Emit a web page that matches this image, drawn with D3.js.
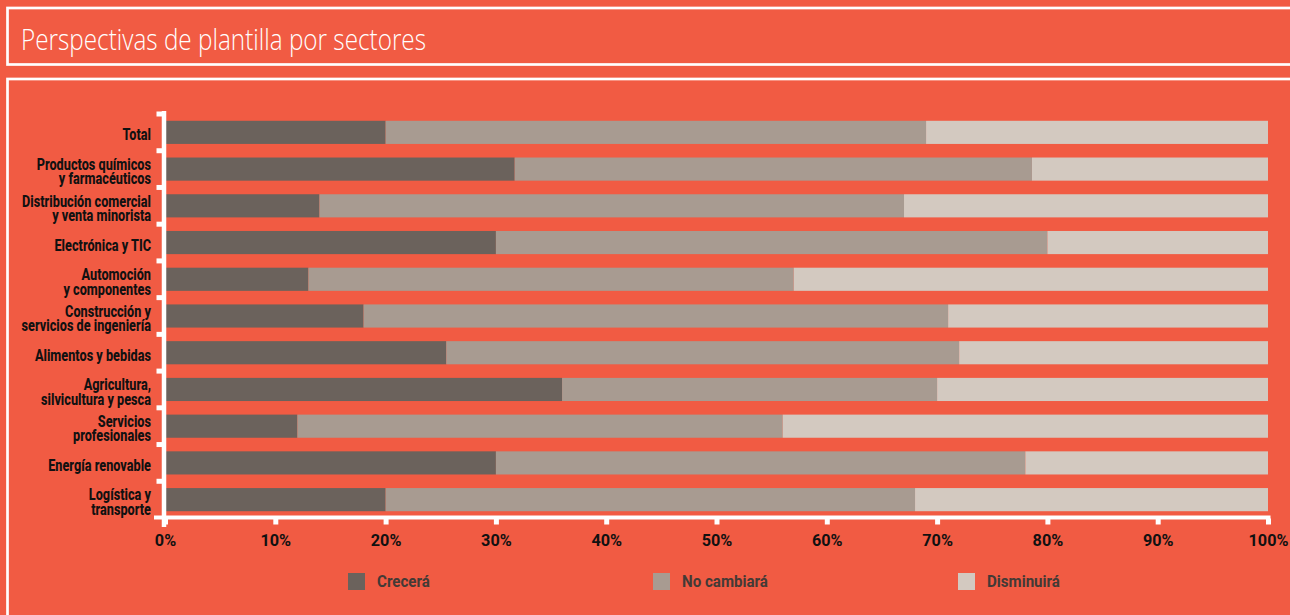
<!DOCTYPE html>
<html><head><meta charset="utf-8">
<script src="https://cdn.jsdelivr.net/npm/d3@7"></script>
<style>html,body{margin:0;padding:0;background:#F15B43;overflow:hidden}</style>
</head><body><svg id="c" width="1290" height="615"></svg>
<script>
const title = "Perspectivas de plantilla por sectores";
const categories = [
  "Total",
  "Productos químicos\ny farmacéuticos",
  "Distribución comercial\ny venta minorista",
  "Electrónica y TIC",
  "Automoción\ny componentes",
  "Construcción y\nservicios de ingeniería",
  "Alimentos y bebidas",
  "Agricultura,\nsilvicultura y pesca",
  "Servicios\nprofesionales",
  "Energía renovable",
  "Logística y\ntransporte"
];
const seriesNames = ["Crecerá", "No cambiará", "Disminuirá"];
const crecera    = [20, 31.7, 14, 30, 13, 18, 25.5, 36, 12, 30, 20];
const noCambiara = [49, 46.9, 53, 50, 44, 53, 46.5, 34, 44, 48, 48];
const disminuira = [31, 21.4, 33, 20, 43, 29, 28,   30, 44, 22, 32];
const xTicks = [0, 10, 20, 30, 40, 50, 60, 70, 80, 90, 100];
const colors = ["#6B625C", "#A89B91", "#D3C9C0"];

const svg = d3.select("#c");
const BG = "#F15B43";
svg.append("rect").attr("width", 1290).attr("height", 615).attr("fill", BG);

// frames
svg.append("rect").attr("x", 7.5).attr("y", 8).attr("width", 1300).attr("height", 56.5)
  .attr("fill", "none").attr("stroke", "#fff").attr("stroke-width", 2.7);
svg.append("rect").attr("x", 7.5).attr("y", 79).attr("width", 1300).attr("height", 600)
  .attr("fill", "none").attr("stroke", "#fff").attr("stroke-width", 2.7);

svg.append("text").attr("x", 21).attr("y", 50)
  .attr("font-family", "'Open Sans', sans-serif").attr("font-weight", 300)
  .attr("font-size", 29).attr("fill", "#fff")
  .attr("textLength", 405).attr("lengthAdjust", "spacingAndGlyphs")
  .text(title);

const rows = categories.map((c, i) => ({cat: c, "Crecerá": crecera[i], "No cambiará": noCambiara[i], "Disminuirá": disminuira[i]}));
const stack = d3.stack().keys(seriesNames)(rows);

const x = d3.scaleLinear().domain([0, 100]).range([165, 1268]);
const y = d3.scaleBand().domain(categories).range([114, 518]).paddingInner(0.37).paddingOuter(0.185);
const color = d3.scaleOrdinal().domain(seriesNames).range(colors);

svg.append("g").selectAll("g").data(stack).join("g")
  .attr("fill", d => color(d.key))
  .selectAll("rect").data(d => d).join("rect")
  .attr("x", d => x(d[0]))
  .attr("width", d => x(d[1]) - x(d[0]))
  .attr("y", d => y(d.data.cat))
  .attr("height", y.bandwidth());

const FONT = "Roboto, 'Noto Sans', sans-serif";
function measure(txt, size, wt) {
  const t = svg.append("text").attr("font-family", FONT).attr("font-weight", wt)
    .attr("font-size", size).text(txt);
  const w = t.node().getComputedTextLength();
  t.remove();
  return w;
}
const LW = 800;
const sLab = 129 / measure("Distribución comercial", 16, LW);
const sTick = 40 / measure("100%", 16, 700);
const sLeg = 86 / measure("No cambiará", 16, 700);

// category labels (one text per category, lines as tspans)
const labG = svg.append("g");
categories.forEach(c => {
  const lines = c.split("\n");
  const cy = y(c) + y.bandwidth() / 2;
  const by = cy + 8 - (lines.length - 1) / 2 * 14.5;
  const t = labG.append("text")
    .attr("transform", `translate(151,${by}) scale(${sLab},1)`)
    .attr("text-anchor", "end")
    .attr("font-family", FONT).attr("font-weight", LW).attr("font-size", 16)
    .attr("fill", "#111");
  lines.forEach((ln, i) => {
    t.append("tspan").attr("x", 0).attr("y", i * 14.5).text(ln);
  });
});

// y axis ticks at band boundaries
const boundaries = categories.map(c => y(c) - y.step() * y.paddingInner() / 2);
boundaries[0] = y.range()[0];
svg.append("g").selectAll("rect").data(boundaries).join("rect")
  .attr("x", 156.5).attr("y", d => d - 2.5).attr("width", 8).attr("height", 5).attr("fill", "#fff");

// x axis
const xAxis = d3.axisBottom(x).tickValues(xTicks).tickFormat(d => d + "%")
  .tickSizeInner(6).tickSizeOuter(0).tickPadding(0);
const gx = svg.append("g").attr("transform", "translate(0,518.5)").call(xAxis);
gx.select(".domain").remove();
gx.selectAll(".tick line").attr("stroke", "#fff").attr("stroke-width", 5);
gx.selectAll(".tick text")
  .attr("y", 0).attr("dy", 0)
  .attr("transform", `translate(0,27.5) scale(${sTick},1)`)
  .attr("font-family", FONT).attr("font-weight", 700).attr("font-size", 16)
  .attr("fill", "#111");

svg.append("line").attr("x1", 154).attr("x2", 1270.5).attr("y1", 517.5).attr("y2", 517.5)
  .attr("stroke", "#fff").attr("stroke-width", 4);
svg.append("line").attr("x1", 164).attr("x2", 164).attr("y1", 111).attr("y2", 527)
  .attr("stroke", "#fff").attr("stroke-width", 4.5);

// legend
const legX = d3.scalePoint().domain(seriesNames).range([348, 958]);
const lg = svg.append("g").selectAll("g").data(seriesNames).join("g")
  .attr("transform", d => `translate(${legX(d)},573)`);
lg.append("rect").attr("width", 17).attr("height", 17).attr("fill", d => color(d));
lg.append("text")
  .attr("transform", `translate(29,14.3) scale(${sLeg},1)`)
  .attr("font-family", FONT).attr("font-weight", 700).attr("font-size", 16)
  .attr("fill", "#433A36").text(d => d);
</script></body></html>
